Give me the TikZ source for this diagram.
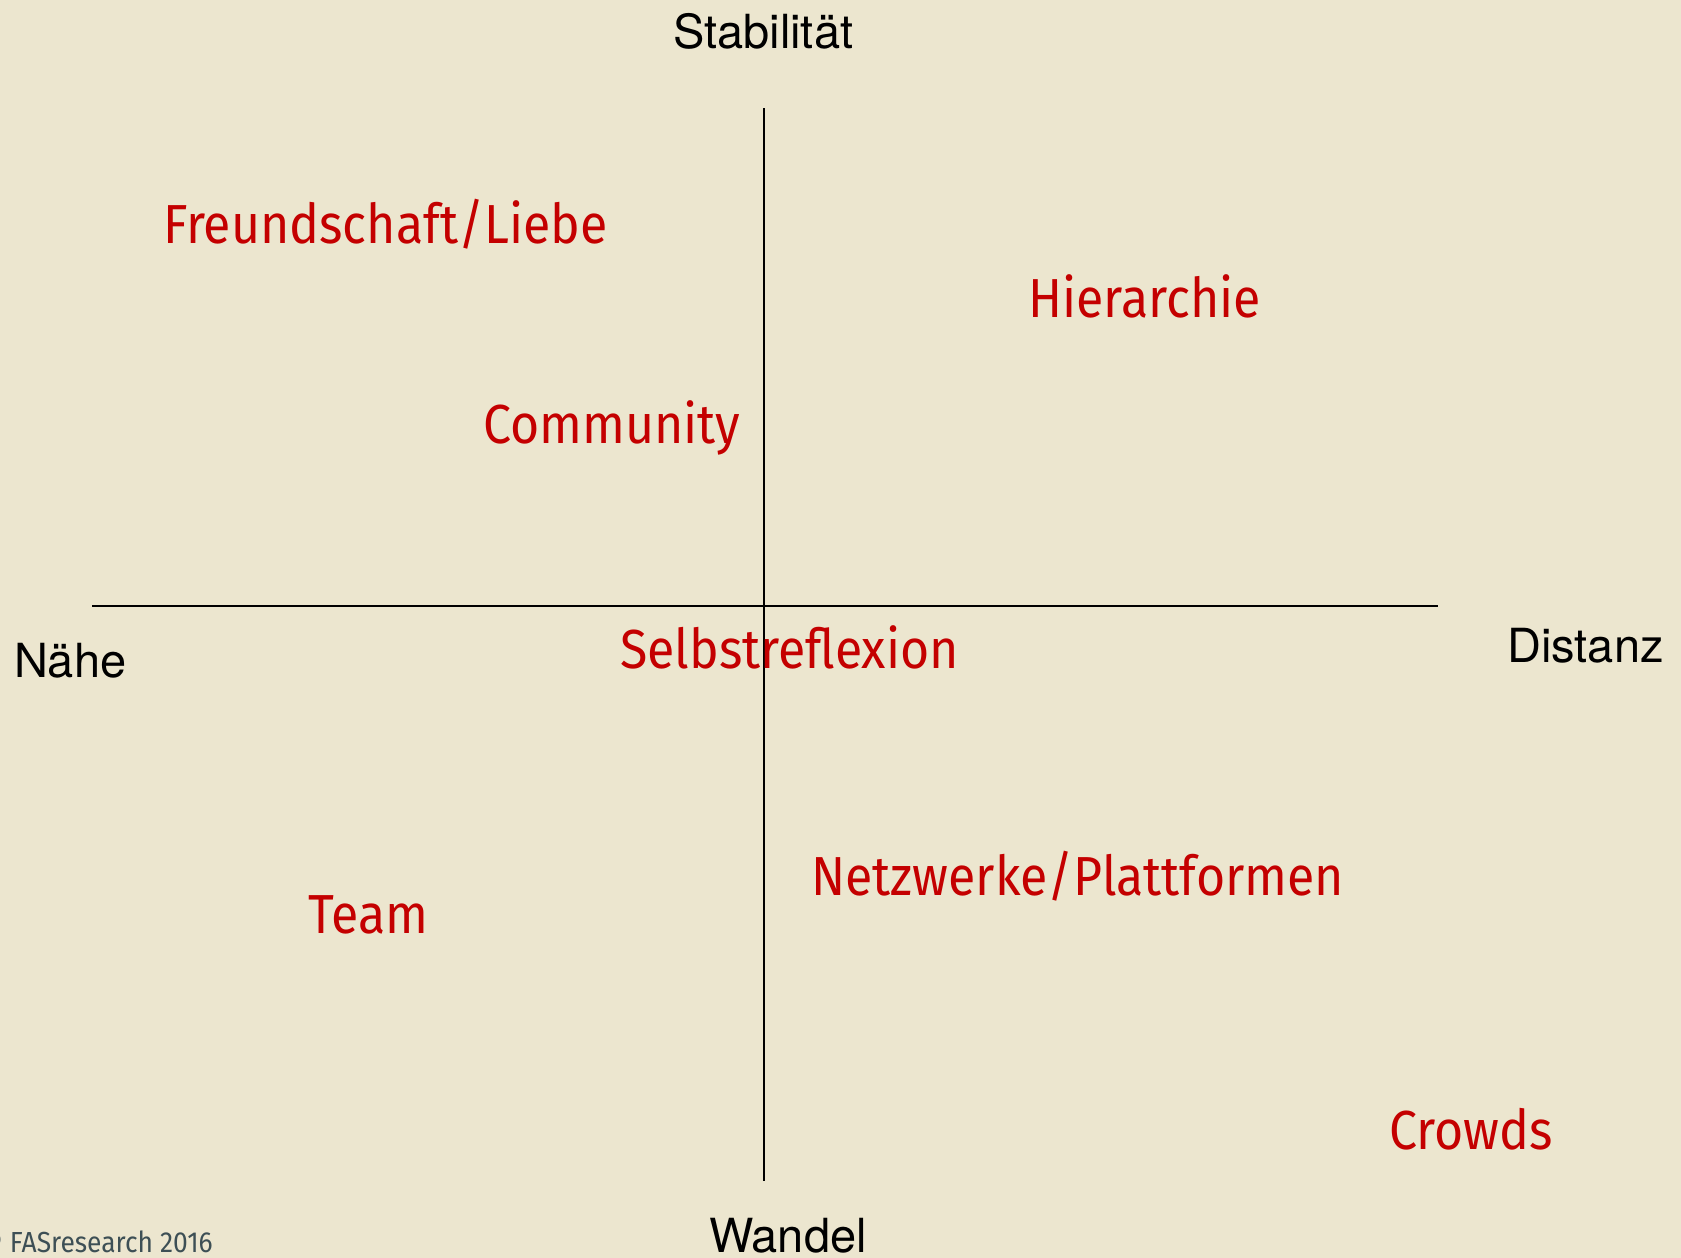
\documentclass[tikz,border=0pt]{standalone}
\usepackage{fontspec}
\setmainfont{TeX Gyre Heros}
\newfontfamily\redfont[FakeStretch=0.91]{Fira Sans}
\newfontfamily\copyfont[FakeStretch=0.91]{Fira Sans}
\definecolor{bgbeige}{RGB}{236,230,207}
\definecolor{labelred}{RGB}{196,0,0}
\definecolor{copygray}{RGB}{61,79,85}
\begin{document}
\begin{tikzpicture}[x=1pt,y=-1pt,
  axislabel/.style={inner sep=0pt, anchor=base west, font=\fontsize{47}{50}\selectfont, text=black},
  quadlabel/.style={inner sep=0pt, anchor=base west, font=\redfont\fontsize{55}{60}\selectfont, text=labelred},
  axisline/.style={draw=black, line width=1.6pt}]
\fill[bgbeige] (0,0) rectangle (1681,1258);
\useasboundingbox (0,0) rectangle (1681,1258);
% axes
\coordinate (top) at (764,108);
\coordinate (bottom) at (764,1181);
\coordinate (left) at (92,606);
\coordinate (right) at (1438,606);
\draw[axisline] (top) -- (bottom);
\draw[axisline] (left) -- (right);
% axis labels
\node[axislabel] (stab) at (673,48) {Stabilität};
\node[axislabel] (wandel) at (709,1252) {Wandel};
\node[axislabel] (naehe) at (14,677) {Nähe};
\node[axislabel] (distanz) at (1507,662) {Distanz};
% quadrant labels
\node[quadlabel] (freund) at (163,243) {Freundschaft/Liebe};
\node[quadlabel] (hier) at (1028,317) {Hierarchie};
\node[quadlabel] (comm) at (483,443) {Community};
\node[quadlabel] (selbst) at (620,668) {Selbstreflexion};
\node[quadlabel] (netz) at (811,895) {Netzwerke/Plattformen};
\node[quadlabel] (team) at (308,933) {Team};
\node[quadlabel] (crowds) at (1389,1149) {Crowds};
% copyright
\node[inner sep=0pt, anchor=base east, font=\copyfont\fontsize{29}{32}\selectfont, text=copygray] (copy) at (213,1252) {© FASresearch 2016};
\end{tikzpicture}
\end{document}
